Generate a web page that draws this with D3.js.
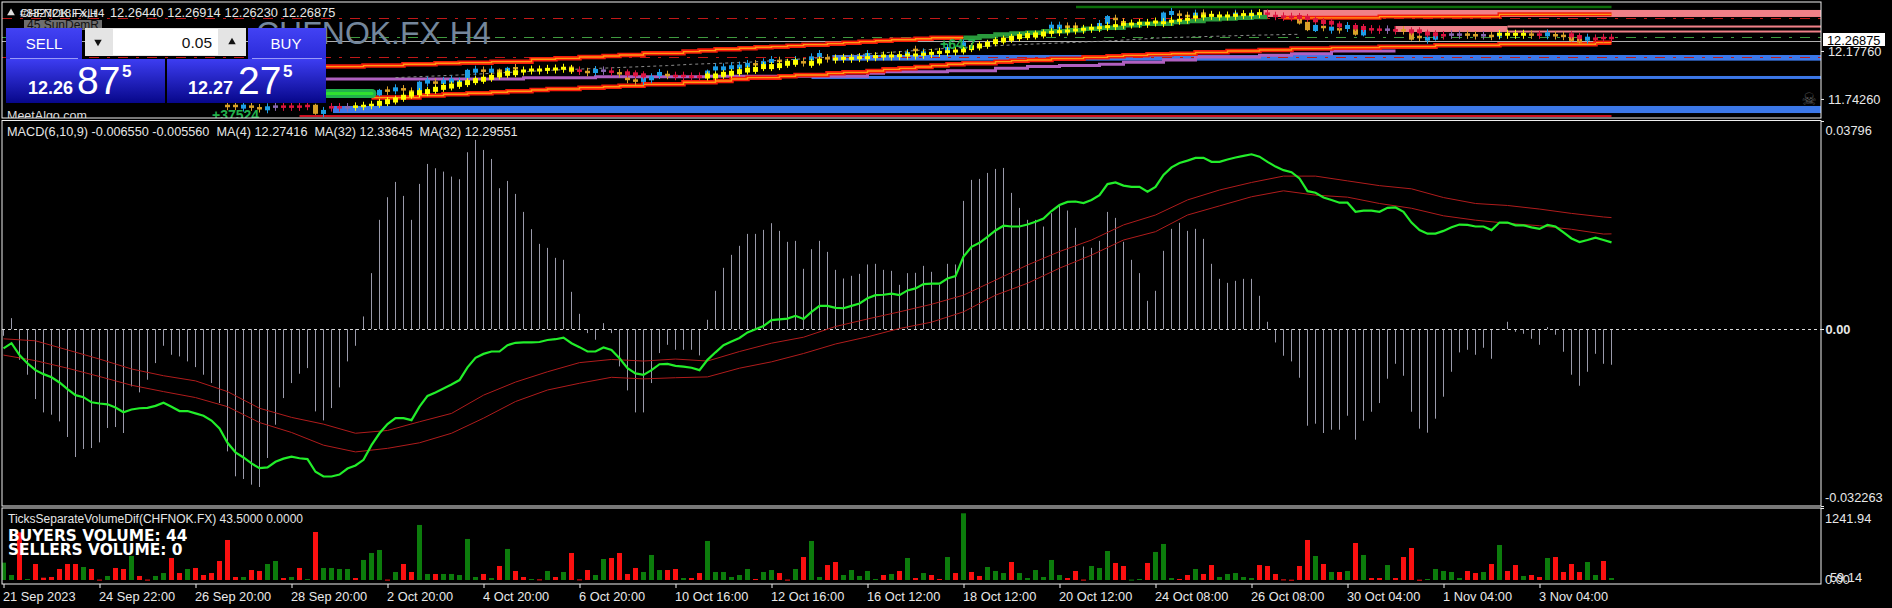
<!DOCTYPE html>
<html><head><meta charset="utf-8"><title>CHFNOK.FX H4</title>
<script src="https://cdn.jsdelivr.net/npm/d3@7"></script>
<style>html,body{margin:0;padding:0;background:#000;overflow:hidden}svg{display:block}
text{font-family:"Liberation Sans",Arial,sans-serif}</style></head><body><div id="c"></div>
<script>
// ---------- time axis ----------
const dateTicks=[0,12,24,36,48,60,72,84,96,108,120,132,144,156,168,180,192];
const dateLabels=["21 Sep 2023","24 Sep 22:00","26 Sep 20:00","28 Sep 20:00","2 Oct 20:00","4 Oct 20:00","6 Oct 20:00","10 Oct 16:00","12 Oct 16:00","16 Oct 12:00","18 Oct 12:00","20 Oct 12:00","24 Oct 08:00","26 Oct 08:00","30 Oct 04:00","1 Nov 04:00","3 Nov 04:00"];
// ---------- MACD histogram (x10^-3) ----------
const macdHist=[-1.22,2.00,-5.59,-8.32,-12.76,-15.19,-15.61,-16.83,-19.68,-23.33,-21.87,-21.69,-20.66,-18.04,-17.86,-18.95,-10.45,-11.54,-9.23,-6.20,-3.04,-4.68,-4.98,-5.89,-6.93,-8.32,-9.84,-13.49,-22.30,-26.85,-27.34,-28.37,-28.80,-23.51,-17.44,-12.58,-9.84,-8.14,-7.11,-15.01,-16.65,-14.40,-10.63,-5.89,-3.04,2.31,10.21,19.93,24.06,26.85,24.30,19.93,26.49,30.13,29.34,28.73,27.82,27.34,32.26,34.51,32.68,31.04,25.70,27.03,24.66,21.38,18.23,15.55,14.82,13.00,12.64,6.80,2.79,-0.73,-1.94,1.09,-0.73,-6.80,-11.18,
-15.19,-15.19,-9.84,-4.37,-2.86,-3.77,-3.77,-3.77,-4.80,1.70,6.99,11.18,13.55,15.19,17.37,17.37,18.10,19.32,17.92,15.92,16.10,11.00,14.58,16.10,14.09,10.81,9.23,9.72,10.08,11.79,11.91,10.81,10.63,8.08,10.21,10.27,11.54,10.45,8.08,11.91,11.79,23.39,27.22,27.40,28.49,29.22,29.40,24.85,22.11,19.93,19.93,18.71,21.14,22.48,21.63,18.47,15.07,14.82,16.10,21.38,20.29,15.92,12.64,10.21,5.16,6.99,14.28,18.29,19.38,17.92,18.29,16.46,11.91,9.17,8.44,8.81,9.17,9.17,6.08,
1.34,-2.43,-4.86,-5.89,-8.87,-17.62,-17.25,-18.95,-18.35,-18.35,-15.80,-20.17,-16.71,-15.07,-13.49,-9.05,-6.32,-8.51,-15.07,-18.16,-18.89,-16.34,-12.33,-7.78,-4.25,-3.77,-4.68,-3.40,-5.41,-0.12,1.34,-0.49,-0.85,-1.76,-2.86,0.36,-1.03,-4.13,-8.32,-10.33,-7.78,-4.50,-6.32,-6.50];
// ---------- MA(4) price line ----------
const maFast=[12.007,12.020,11.990,11.969,11.952,11.942,11.934,11.921,11.904,11.889,11.884,11.871,11.868,11.866,11.858,11.846,11.853,11.856,11.857,11.862,11.870,11.860,11.849,11.849,11.843,11.837,11.825,11.805,11.769,11.745,11.732,11.717,11.705,11.707,11.721,11.729,11.734,11.730,11.728,11.696,11.684,11.684,11.689,11.704,11.712,11.726,11.763,11.793,11.816,11.831,11.831,11.826,11.860,11.887,11.896,11.906,11.916,11.927,11.959,11.983,11.993,11.999,11.999,12.015,12.021,12.022,12.022,12.023,12.028,12.030,12.034,12.020,12.010,11.999,11.999,12.009,12.003,11.982,11.957,
11.944,11.940,11.952,11.967,11.968,11.963,11.961,11.958,11.952,11.978,11.997,12.015,12.024,12.033,12.047,12.055,12.063,12.078,12.080,12.082,12.089,12.081,12.099,12.114,12.114,12.109,12.108,12.114,12.120,12.133,12.141,12.142,12.145,12.141,12.153,12.158,12.169,12.170,12.170,12.183,12.189,12.238,12.263,12.273,12.288,12.304,12.316,12.314,12.314,12.319,12.326,12.334,12.353,12.368,12.376,12.377,12.373,12.381,12.393,12.421,12.425,12.417,12.414,12.414,12.402,12.414,12.444,12.463,12.474,12.480,12.487,12.487,12.477,12.477,12.483,12.488,12.492,12.496,12.490,
12.477,12.465,12.456,12.451,12.435,12.403,12.399,12.387,12.381,12.374,12.374,12.351,12.354,12.354,12.351,12.361,12.362,12.351,12.324,12.305,12.296,12.296,12.303,12.312,12.319,12.318,12.314,12.314,12.305,12.324,12.324,12.317,12.317,12.312,12.308,12.318,12.314,12.299,12.284,12.275,12.280,12.286,12.280,12.27416];
// ---------- MA(32) lines, read every fourth bar, last reading at bar 201 ----------
const maSlowBars=[0,4,8,12,16,20,24,28,32,36,40,44,48,52,56,60,64,68,72,76,80,84,88,92,96,100,104,108,112,116,120,124,128,132,136,140,144,148,152,156,160,164,168,172,176,180,184,188,192,196,200,201];
const maHigh=[12.031,12.026,12.003,11.980,11.955,11.938,11.925,11.898,11.856,11.833,11.816,11.793,11.800,11.822,11.843,11.889,11.922,11.948,11.971,11.979,11.975,11.980,11.975,11.999,12.020,12.035,12.062,12.081,12.099,12.118,12.141,12.179,12.217,12.251,12.280,12.318,12.343,12.381,12.406,12.425,12.441,12.441,12.429,12.417,12.409,12.387,12.372,12.367,12.358,12.347,12.338,12.33645];
const maLow=[11.990,11.976,11.957,11.936,11.914,11.898,11.883,11.860,11.820,11.795,11.763,11.746,11.755,11.769,11.793,11.831,11.873,11.902,11.919,11.934,11.930,11.933,11.935,11.957,11.973,11.994,12.018,12.036,12.057,12.073,12.099,12.141,12.171,12.209,12.242,12.280,12.301,12.343,12.366,12.389,12.404,12.393,12.388,12.372,12.360,12.341,12.330,12.322,12.316,12.307,12.295,12.29551];
// ---------- volume ----------
const tickVolume=[323,93,888,19,298,43,56,205,298,298,242,205,8,75,224,205,447,75,8,75,130,410,130,205,224,93,130,354,745,56,56,186,168,298,354,37,56,224,19,894,224,224,205,205,37,373,503,559,8,149,298,149,1025,112,112,112,112,93,764,56,112,37,261,578,168,56,19,12,168,56,149,503,12,186,93,391,410,503,112,224,149,466,186,186,205,37,37,130,727,149,149,56,93,205,19,149,186,130,8,205,428,727,56,279,335,93,186,75,168,19,93,112,168,410,37,130,93,19,428,130,1241.94,149,75,242,168,130,335,130,37,186,56,373,93,37,168,8,261,224,540,317,261,8,19,317,522,671,37,19,93,205,112,279,56,112,130,56,37,279,261,112,12,6,261,745,447,298,149,149,168,689,466,37,37,279,37,428,596,6,19,205,168,149,37,168,130,149,298,652,168,279,75,93,56,410,428,149,298,149,335,93,354,37];
const volumeSide=("ggrgrrrrrr"+"grrgrrgrrg"+"grrgrrrrrr"+"grrggrgrgr"+"ggggrgggrg"+"rrggrggggg"+"rgrgrrgrgr"+"grrrggrrrr"+"gggrrgrrgg"+"ggggrggrrg"+"rggrrggggg"+"rgrgrgrrgr"+"grrgggrggg"+"gggrrrgggr"+"rggrgggrrg"+"rrgggggrrr"+"rrrrgrgrgr"+"grrgrrrrgg"+"gggrrgrgrr"+"grrgrrrrgg"+"rg").split("");
// ---------- price chart ----------
const firstCandle=28;
const bodyPrice=[11.679,11.679,11.673,11.673,11.658,11.658,11.673,11.673,11.673,11.673,11.679,11.649,11.625,11.667,11.667,11.667,11.673,11.679,11.688,11.800,
11.818,11.830,11.830,11.809,11.854,11.900,11.891,11.897,11.909,11.891,
11.969,11.999,11.999,11.999,11.990,12.005,12.021,null,null,null,
null,null,null,12.011,11.999,11.987,11.996,11.999,11.990,11.975,
11.924,11.909,11.915,11.930,11.969,
11.960,11.951,11.951,11.945,11.945,11.975,12.020,12.020,12.030,12.036,12.051,12.057,12.066,12.087,12.087,
null,12.087,12.075,12.111,12.141,12.111,null,null,null,null,12.141,null,null,null,null,12.150,12.187,12.156,null,null,12.196,null,12.238,
null,null,null,null,null,null,null,null,null,null,
12.398,12.398,12.398,12.398,null,null,12.413,12.459,12.468,12.438,null,null,null,null,12.486,12.522,12.507,12.495,12.507,12.516,12.501,null,null,12.507,null,12.507,null,
12.516,12.495,12.489,12.486,12.456,12.404,12.386,12.395,12.380,12.374,12.395,12.350,12.344,12.374,12.371,12.371,12.365,12.365,12.310,12.304,12.289,12.310,12.320,12.326,12.326,12.326,12.320,12.320,12.314,12.326,null,null,null,12.326,12.326,12.329,12.320,12.314,12.289,12.274,12.289,12.289,12.295,12.295];
const bodyKind=("oobooobprrr".slice(0,3)+"oobprrr"+"robrrpyyyb"+"oboobbobbb"+"bbobobo..."+"...orobpro"+"oobbb"+"orrrrbbbbbbobbo"+".bobbo....b....bob..b.b"+".........."+"bboo..bboo....bbooboo..b.b."+"rrrr"+"oobobobob"+"rrpr"+"ooobb"+"rppoopob"+"..."+"orboooobrrr").split("");
const bodyExtra={39:.082,47:.05,52:.09,58:.075,62:.04,63:.04,71:.05,88:.05,138:.07,145:.08,162:.06,163:.075,164:.055,169:.05,170:.05,176:.06,179:.06,196:.04,197:.04};
const firstYellow=47;
const yellowMark=[11.703,11.718,11.733,11.758,11.785,11.800,11.809,11.830,11.848,11.860,11.875,11.891,11.909,11.921,11.939,11.960,11.975,11.981,11.996,12.005,12.005,12.011,12.014,12.021,12.011,
null,null,null,null,null,null,null,null,null,null,null,null,null,null,null,null,
11.951,11.951,11.966,11.975,11.990,12.005,12.011,12.036,12.036,12.045,12.066,12.075,null,12.066,12.087,null,12.105,12.111,12.111,12.117,12.117,12.126,12.132,12.132,12.135,12.141,12.141,12.147,12.156,12.165,12.171,12.177,12.187,12.208,12.223,12.238,12.262,12.277,12.292,12.308,12.317,12.323,12.332,12.347,12.353,12.359,12.368,12.374,12.383,12.389,12.398,12.407,12.419,12.422,12.428,12.428,12.440,12.434,12.447,12.456,12.465,12.486,12.495,12.501,12.495,12.495,12.501,12.507,12.507,12.516,
null,null,null,null,null,null,null,null,null,null,null,null,null,null,null,null,null,null,null,null,null,null,null,null,null,null,null,null,null,
12.329,12.329,12.329,12.329];
const crimsonBars=[78,79,80,162,163,164,165,166,167,169,170,176,177,178,179,196,197];
const crimsonMark=[11.975,11.966,11.957,12.486,12.477,12.456,12.440,12.434,12.410,12.395,12.386,12.356,12.356,12.335,12.329,12.320,12.304];
const upperBars=[40,45,50,54,57,61,66,69,72,75,77,80,85,87,89,92,94,96,98,100,103,105,107,109,111,114,116,120];
const upperBand=[12.036,12.045,12.057,12.066,12.072,12.081,12.102,12.111,12.123,12.132,12.141,12.156,12.172,12.181,12.193,12.202,12.211,12.217,12.226,12.235,12.244,12.253,12.262,12.271,12.280,12.289,12.298,12.298];
const lowerBars=[46,52,55,58,61,63,66,68,72,75,77,80,85,89,91,93,97,99,103,105,108,110,112,114,116,118,120,124,126,128,131,135,138,140,143,146,149,153,157,161,166,172,179,187,199,201];
const lowerBand=[11.755,11.773,11.785,11.794,11.803,11.812,11.824,11.833,11.845,11.854,11.863,11.875,11.894,11.906,11.924,11.936,11.948,11.960,11.975,11.984,11.996,12.011,12.020,12.033,12.045,12.057,12.066,12.081,12.090,12.096,12.108,12.120,12.129,12.138,12.147,12.153,12.165,12.178,12.187,12.199,12.208,12.217,12.229,12.238,12.253,12.253];
const purpleBars=[40,65,74,88,108,110,118,124,128,132,137,140,145,149,157,161,166,174];
const purpleLine=[11.924,11.936,11.945,11.948,11.975,11.990,11.999,12.020,12.036,12.045,12.057,12.075,12.096,12.123,12.138,12.153,12.178,12.178];
const greenBars=[120,122,124,126,128,130,133,135,137,140,142,146,148,150,152,154,156,158];
const greenBand=[12.298,12.311,12.326,12.335,12.344,12.356,12.365,12.380,12.389,12.410,12.425,12.440,12.449,12.465,12.471,12.480,12.486,12.486];
const greyBars=[49,57,69,83,86,93,101,109,118,126,138,145,156,162];
const greyLine=[11.936,11.960,12.005,12.045,12.057,12.075,12.111,12.156,12.202,12.232,12.268,12.298,12.320,12.329];
const lastPrice=12.26875, greenLevel=12.301, redLevelHigh=12.474, redLevelLow=12.120;
const priceTicks=[12.1776,11.7426];
const ohlc=["12.26440","12.26914","12.26230","12.26875"];

// ---------- layout ----------
const W=1892,H=608,L=2,R=1821;
const svg=d3.select("#c").append("svg").attr("width",W).attr("height",H);
const x=d3.scaleLinear().domain([0,201]).range([3.5,1611.5]);
const yP=d3.scaleLinear().domain([12.6217,11.57]).range([2,118]);
const yM=d3.scaleLinear().domain([-32.263,37.96]).range([506,121]);
const yL=d3.scaleLinear().domain([11.6097,12.5799]).range([506,121]);
const yV=d3.scaleLinear().domain([0,1241.94]).range([580,513.3]);
const defs=svg.append("defs");
[["cp0",L,2,R-L,116],["cp1",L,121,R-L,385],["cp2",L,508,R-L,76]].forEach(c=>defs.append("clipPath").attr("id",c[0]).append("rect").attr("x",c[1]).attr("y",c[2]).attr("width",c[3]).attr("height",c[4]));
const grad=defs.append("linearGradient").attr("id","wg").attr("x1",0).attr("x2",0).attr("y1",0).attr("y2",1);
grad.append("stop").attr("offset",0).attr("stop-color","#3d3df2");grad.append("stop").attr("offset",1).attr("stop-color","#07078a");
const grad2=defs.append("linearGradient").attr("id","wg2").attr("x1",0).attr("x2",0).attr("y1",0).attr("y2",1);
grad2.append("stop").attr("offset",0).attr("stop-color","#4242f4");grad2.append("stop").attr("offset",1).attr("stop-color","#2a2ad8");

// ---------- price panel ----------
const P=svg.append("g").attr("clip-path","url(#cp0)");
const band=(x0,x1,y0,y1,c)=>P.append("rect").attr("x",x0).attr("width",x1-x0).attr("y",y0).attr("height",y1-y0).attr("fill",c);
const pink="#f08088",blue="#3c78e8";
band(x(157.5),R,yP(12.5495),yP(12.486),pink);
band(x(173.9),x(188),yP(12.404),yP(12.350),pink);
band(x(188),R,yP(12.4085),yP(12.390),pink);
band(x(188),R,yP(12.363),yP(12.345),pink);
band(x(103.6),R,yP(12.141),yP(12.090),blue);
band(x(101),R,yP(11.951),yP(11.924),blue);
band(333,R,yP(11.679),yP(11.615),blue);
band(x(37),x(201),yP(11.597),yP(11.579),"#d01020");
const hline=(p,c,dash,w)=>P.append("line").attr("x1",L).attr("x2",R).attr("y1",Math.round(yP(p))+.5).attr("y2",Math.round(yP(p))+.5).attr("stroke",c).attr("stroke-width",w||1).attr("stroke-dasharray",dash||null);
hline(redLevelHigh,"#c01818","10 8 3 8");
hline(redLevelLow,"#c01818","10 8 3 8");
hline(greenLevel,"#3f9a3f","10 8 3 8");
hline(lastPrice,"#b0b0b0");
const stepLine=d3.line().x(d=>x(d[0])).y(d=>yP(d[1])).curve(d3.curveStepAfter);
P.append("path").attr("d",stepLine(d3.zip(purpleBars,purpleLine))).attr("fill","none").attr("stroke","#b060c0").attr("stroke-width",3);
P.append("path").attr("d",d3.line().x(d=>x(d[0])).y(d=>yP(d[1]))(d3.zip(greyBars,greyLine))).attr("fill","none").attr("stroke","#8a8a8a").attr("stroke-dasharray","3 3");
[[upperBars,upperBand],[lowerBars,lowerBand]].forEach(b=>{
  const dd=stepLine(d3.zip(b[0],b[1]));
  P.append("path").attr("d",dd).attr("fill","none").attr("stroke","#f51a0a").attr("stroke-width",4.5);
  P.append("path").attr("d",dd).attr("fill","none").attr("stroke","#ff9a10").attr("stroke-width",1.4);
});
// upper-right resistance steps
const resBars=[160,172,187,201], resVals=[12.478,12.490,12.510,12.510];
const rd=stepLine(d3.zip(resBars,resVals));
P.append("path").attr("d",rd).attr("fill","none").attr("stroke","#f51a0a").attr("stroke-width",4);
P.append("path").attr("d",rd).attr("fill","none").attr("stroke","#ff9a10").attr("stroke-width",1.2);
// green zones
P.append("path").attr("d",stepLine(d3.zip(greenBars,greenBand))).attr("fill","none").attr("stroke","#2a9a3c").attr("stroke-width",4.5);
P.append("line").attr("x1",1076).attr("x2",x(201)).attr("y1",yP(12.5767)).attr("y2",yP(12.5767)).attr("stroke","#0a6e0a").attr("stroke-width",2.5);
P.append("line").attr("x1",327).attr("x2",372).attr("y1",yP(11.7925)).attr("y2",yP(11.7925)).attr("stroke","#22b14c").attr("stroke-width",9).attr("stroke-linecap","round");
P.append("line").attr("x1",327).attr("x2",372).attr("y1",yP(11.7925)).attr("y2",yP(11.7925)).attr("stroke","#30e030").attr("stroke-width",3).attr("stroke-linecap","round");
// candles
const kindColor={b:"#1e9ee6",o:"#d8a028",r:"#dc1440",p:"#8a68b0",y:"#ffff00"};
const drawBody=(bar,price,color,hpx,wick)=>{
  const cx=x(bar),cy=yP(price);
  P.append("line").attr("x1",cx).attr("x2",cx).attr("y1",cy-hpx/2-wick).attr("y2",cy+hpx/2+wick).attr("stroke",color);
  P.append("rect").attr("x",cx-2.5).attr("width",5).attr("y",cy-hpx/2).attr("height",hpx).attr("fill",color);
};
bodyPrice.forEach((p,k)=>{
  const i=k+firstCandle;
  if(p===null)return;
  const kind=bodyKind[k]&&bodyKind[k]!=="."?bodyKind[k]:"o";
  const extra=bodyExtra[i]||0;
  drawBody(i,p,kindColor[kind],extra?Math.abs(yP(0)-yP(extra)):(kind==="b"?4:2.5),extra?1:3);
});
crimsonBars.forEach((b,k)=>drawBody(b,crimsonMark[k],kindColor.r,4,2));
yellowMark.forEach((p,k)=>{
  if(p===null)return;
  const i=k+firstYellow;
  const big=i<65||(i>=88&&i<=103)||(i>=120&&i<=130);
  drawBody(i,p,kindColor.y,big?5:3,big?2:3);
});
// labels inside price panel
P.append("text").attr("x",256).attr("y",44).attr("font-size",32).attr("fill","#74879c").text("CHFNOK.FX H4");
P.append("text").attr("x",940).attr("y",49).attr("font-size",14).attr("font-weight","bold").attr("fill","#22b14c").text("+64.7");
P.append("text").attr("x",212).attr("y",120).attr("font-size",14).attr("font-weight","bold").attr("fill","#22b14c").text("+37524");
P.append("rect").attr("x",24).attr("y",20).attr("width",78).attr("height",10).attr("fill","#6e6e6e");
P.append("text").attr("x",27).attr("y",29).attr("font-size",12).attr("fill","#111").text("45 SunDemR");
P.append("text").attr("x",7).attr("y",120).attr("font-size",12.5).attr("fill","#ddd").text("MeetAlgo.com");
P.append("text").attr("x",1809).attr("y",105).attr("text-anchor","middle").attr("font-size",17).style("font-family","DejaVu Sans").attr("fill","#5a5a5a").text("\u2620");
// header
P.append("path").attr("d",d3.symbol(d3.symbolTriangle,26)()).attr("transform","translate(11,13)").attr("fill","#ddd");
["#8327218.FxLt","CHFNOK.FX,H4"].forEach(t=>P.append("text").attr("x",20).attr("y",17).attr("font-size",11.5).attr("fill","#e6e6e6").text(t));
ohlc.forEach((t,k)=>P.append("text").attr("x",110+57.3*k).attr("y",17).attr("font-size",12.8).attr("fill","#e6e6e6").text(t));
// trade widget
const G=svg.append("g");
const wr=(a,b,c,d,f)=>G.append("rect").attr("x",a).attr("y",b).attr("width",c-a).attr("height",d-b).attr("fill",f);
wr(6,28,82,60,"url(#wg2)");wr(248,28,326,60,"url(#wg2)");
wr(6,59,165,103,"url(#wg)");wr(167,59,326,103,"url(#wg)");
wr(85,28,246,56,"#e4e4e4");wr(113,29,218,55,"#fff");
[[10,78],[252,322]].forEach(a=>G.append("line").attr("x1",a[0]).attr("x2",a[1]).attr("y1",58.5).attr("y2",58.5).attr("stroke","#9a9af8"));
const wt=(xx,yy,s,t,w,a,c)=>G.append("text").attr("x",xx).attr("y",yy).attr("font-size",s).attr("font-weight",w||"normal").attr("text-anchor",a||"start").attr("fill",c||"#fff").text(t);
wt(44,49,15,"SELL",null,"middle");wt(286,49,15,"BUY",null,"middle");
wt(212,48,15.5,"0.05",null,"end","#111");
G.append("path").attr("d",d3.symbol(d3.symbolTriangle,24)()).attr("transform","translate(98,42) rotate(180)").attr("fill","#111");
G.append("path").attr("d",d3.symbol(d3.symbolTriangle,24)()).attr("transform","translate(232,42)").attr("fill","#111");
wt(28,94,18,"12.26","bold");wt(77,94,39,"87");wt(122,77,17,"5","bold");
wt(188,94,18,"12.27","bold");wt(238,94,39,"27");wt(283,77,17,"5","bold");

// ---------- MACD panel ----------
const M=svg.append("g").attr("clip-path","url(#cp1)");
M.selectAll("line.h").data(macdHist).join("line").attr("class","h")
 .attr("x1",(d,i)=>x(i)).attr("x2",(d,i)=>x(i)).attr("y1",yM(0)).attr("y2",d=>yM(d)).attr("stroke","#9a9aaa");
M.append("line").attr("x1",L).attr("x2",R).attr("y1",Math.round(yM(0))+.5).attr("y2",Math.round(yM(0))+.5).attr("stroke","#d8d8d8").attr("stroke-dasharray","3 3");
const slow=d3.line().x(d=>x(d[0])).y(d=>yL(d[1]));
M.append("path").attr("d",slow(d3.zip(maSlowBars,maHigh))).attr("fill","none").attr("stroke","#b01c1c");
M.append("path").attr("d",slow(d3.zip(maSlowBars,maLow))).attr("fill","none").attr("stroke","#b01c1c");
M.append("path").attr("d",d3.line().x((d,i)=>x(i)).y(d=>yL(d))(maFast)).attr("fill","none").attr("stroke","#22ee2a").attr("stroke-width",2.2);
svg.append("text").attr("x",7).attr("y",136).attr("font-size",12.7).attr("fill","#e6e6e6").style("white-space","pre")
 .text("MACD(6,10,9) -0.006550 -0.005560  MA(4) 12.27416  MA(32) 12.33645  MA(32) 12.29551");

// ---------- volume panel ----------
const V=svg.append("g").attr("clip-path","url(#cp2)");
V.selectAll("rect").data(tickVolume).join("rect")
 .attr("x",(d,i)=>x(i)-2.5).attr("width",5).attr("y",d=>yV(d)).attr("height",d=>Math.max(1,yV(0)-yV(d)))
 .attr("fill",(d,i)=>volumeSide[i]==="g"?"#0c7c0c":"#fb1010");
svg.append("text").attr("x",8).attr("y",523).attr("font-size",12).attr("fill","#e6e6e6").text("TicksSeparateVolumeDif(CHFNOK.FX) 43.5000 0.0000");
[["BUYERS VOLUME: 44",541],["SELLERS VOLUME: 0",555]].forEach(a=>svg.append("text").attr("x",8).attr("y",a[1]).attr("font-size",15.4).attr("font-weight","bold").style("font-family","DejaVu Sans").attr("fill","#fff").text(a[0]));

// ---------- frames ----------
[[2,118],[120.5,506],[508,584]].forEach(f=>svg.append("rect").attr("x",L).attr("y",f[0]).attr("width",R-L).attr("height",f[1]-f[0]).attr("fill","none").attr("stroke","#f0f0f0"));

// ---------- axes ----------
const styleAxis=g=>{g.select(".domain").remove();g.selectAll("line").attr("stroke","#f0f0f0");g.selectAll("text").attr("fill","#e8e8e8").attr("font-size",12.8).style("font-family",'"Liberation Sans"');};
svg.append("g").attr("transform",`translate(0,584)`)
 .call(d3.axisBottom(x).tickValues(dateTicks).tickSize(4).tickFormat((d,i)=>dateLabels[i]))
 .call(styleAxis).call(g=>g.selectAll("text").attr("text-anchor","start").attr("dx",-1).attr("y",6).attr("dy","0.85em"));
svg.append("g").attr("transform",`translate(${R},0)`)
 .call(d3.axisRight(yP).tickValues(priceTicks).tickSize(3).tickPadding(4).tickFormat(d3.format(".5f"))).call(styleAxis);
svg.append("rect").attr("x",1823).attr("y",33).attr("width",62).attr("height",13).attr("fill","#fff");
svg.append("text").attr("x",1827).attr("y",44.5).attr("font-size",12.8).attr("fill","#000").text(lastPrice.toFixed(5));
const ra=(xx,yy,t,w)=>svg.append("text").attr("x",xx).attr("y",yy).attr("font-size",12.8).attr("font-weight",w||"normal").attr("fill","#e8e8e8").text(t);
ra(1825.5,134.5,"0.03796");ra(1825.5,334,"0.00","bold");ra(1825,501.5,"-0.032263");
ra(1825,522.5,"1241.94");ra(1830,581.5,"59.14");ra(1825,583.5,"0.00");
[121,329,506,508].forEach(t=>svg.append("line").attr("x1",R).attr("x2",R+3).attr("y1",t+.5).attr("y2",t+.5).attr("stroke","#f0f0f0"));
</script></body></html>
